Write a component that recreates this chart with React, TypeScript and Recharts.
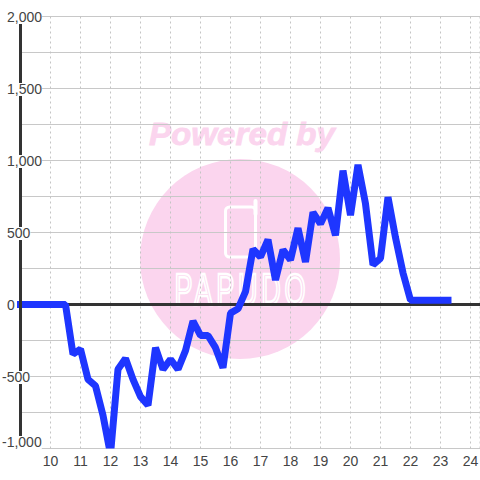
import { LineChart, Line, XAxis, YAxis, CartesianGrid, ReferenceLine } from "recharts";

const xValues = [
  9, 9.25, 9.5, 9.75, 10, 10.25, 10.5, 10.75, 11, 11.25, 11.5, 11.75, 12, 12.25, 12.5, 12.75, 13, 13.25, 13.5, 13.75,
  14, 14.25, 14.5, 14.75, 15, 15.25, 15.5, 15.75, 16, 16.25, 16.5, 16.75, 17, 17.25, 17.5, 17.75, 18, 18.25, 18.5, 18.75,
  19, 19.25, 19.5, 19.75, 20, 20.25, 20.5, 20.75, 21, 21.25, 21.5, 21.75, 22, 22.25, 22.5, 22.75, 23, 23.25,
];
const seriesValues = [
  0, 0, 0, 0, 0, 0, 0, -345, -310, -520, -565, -770, -1040, -450, -375, -520, -640, -700, -300, -450,
  -380, -450, -320, -115, -215, -215, -300, -440, -60, -30, 90, 385, 330, 450, 170, 380, 310, 530, 295, 640,
  560, 670, 480, 930, 620, 970, 700, 275, 320, 745, 465, 220, 30, 30, 30, 30, 30, 30,
];
const xTicks = [10, 11, 12, 13, 14, 15, 16, 17, 18, 19, 20, 21, 22, 23, 24];
const yTicks = [-1000, -750, -500, -250, 0, 250, 500, 750, 1000, 1250, 1500, 1750, 2000];

const chartData = xValues.map((x, i) => ({ x, value: seriesValues[i] }));

const FONT = '"Liberation Sans", Arial, sans-serif';

// y labels sit on the axis with a white box behind them, which breaks the axis line
function YTick({ y, payload }: any) {
  const v = payload.value;
  if (v % 500 !== 0) return null;
  const label = v.toLocaleString("en-US");
  const left = v < 0 ? 2 : 7;
  const width = label.replace(/[,-]/g, "").length * 7.8 + (label.includes(",") ? 3.9 : 0) + (v < 0 ? 4.7 : 0);
  const cy = v === -1000 ? y - 7 : y;
  return (
    <g>
      <rect x={left} y={cy - 5.5} width={width} height={13} fill="#fff" />
      <text x={left} y={cy + 5} fontSize={14} fontFamily={FONT} fill="#444">
        {label}
      </text>
    </g>
  );
}

function Watermark() {
  return (
    <svg width={480} height={480} style={{ position: "absolute", left: 0, top: 0 }}>
      <circle cx={240} cy={259} r={100} fill="#fbd5ee" />
      <text x={242} y={145} textAnchor="middle" fontSize={32} fontWeight="bold" fontStyle="italic" fontFamily={FONT} fill="#fbd5ee" stroke="#fbd5ee" strokeWidth={0.8} textLength={186} lengthAdjust="spacingAndGlyphs">
        Powered by
      </text>
      <rect x={225.5} y={207} width={30} height={50} rx={4} fill="none" stroke="#fff" strokeWidth={3} />
      <path d="M255.5 214 V201" fill="none" stroke="#fff" strokeWidth={4} strokeLinecap="round" />
      <text
        transform="translate(240 305) scale(0.6 1)"
        textAnchor="middle"
        fontSize={45}
        fontFamily={FONT}
        fill="#fbd5ee"
        stroke="#fff"
        strokeWidth={2.5}
        textLength={218}
        lengthAdjust="spacing"
      >
        PAPUDO
      </text>
    </svg>
  );
}

export default function App() {
  return (
    <div style={{ position: "absolute", left: 0, top: 0, width: 480, height: 480, background: "#fff" }}>
      <Watermark />
      <div style={{ position: "absolute", left: 0, top: 0 }}>
        <LineChart
          width={480}
          height={480}
          data={chartData}
          margin={{ top: 16.5, right: 0, bottom: 0, left: 0 }}
        >
          <CartesianGrid vertical={false} stroke="#c8c8c8" />
          <CartesianGrid horizontal={false} stroke="#c4c4c4" strokeDasharray="2 3" />
          <XAxis
            dataKey="x"
            type="number"
            domain={[9, 24.317]}
            ticks={xTicks}
            interval={0}
            axisLine={false}
            tickLine={false}
            height={31.5}
            tick={{ fontSize: 14, fontFamily: FONT, fill: "#444" }}
            tickMargin={2}
          />
          <YAxis
            type="number"
            domain={[-1000, 2000]}
            ticks={yTicks}
            interval={0}
            allowDataOverflow
            width={20.5}
            tickLine={false}
            axisLine={{ stroke: "#333", strokeWidth: 3 }}
            tick={<YTick />}
          />
          <ReferenceLine y={0} stroke="#333" strokeWidth={3} />
          <Line
            dataKey="value"
            type="linear"
            stroke="#1e36ff"
            strokeWidth={7}
            strokeLinecap="square"
            strokeLinejoin="bevel"
            dot={false}
            activeDot={false}
            isAnimationActive={false}
          />
        </LineChart>
      </div>
    </div>
  );
}
